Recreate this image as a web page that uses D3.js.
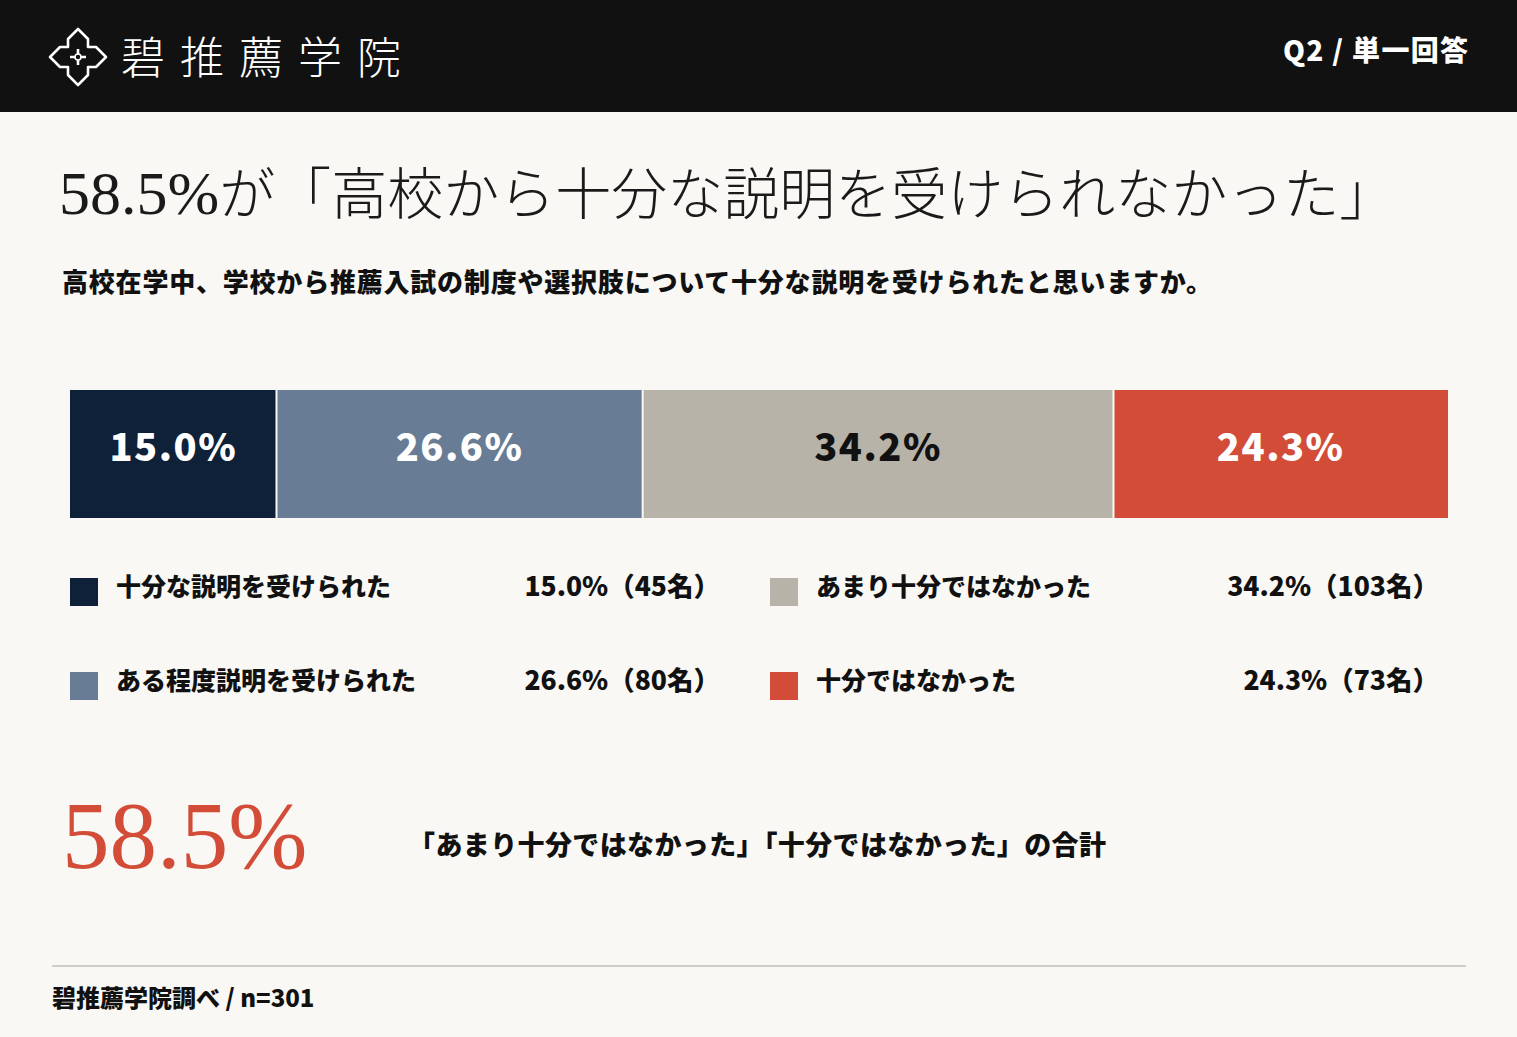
<!DOCTYPE html>
<html>
<head>
<meta charset="utf-8">
<script src="https://cdn.jsdelivr.net/npm/d3@7"></script>
<style>
  html, body { margin: 0; padding: 0; background: #f9f8f4; }
  svg { display: block; }
</style>
</head>
<body>
<svg id="chart" width="1517" height="1037"></svg>
<script>
// ---- data ----
const categories = ["十分な説明を受けられた", "ある程度説明を受けられた", "あまり十分ではなかった", "十分ではなかった"];
const values = [15.0, 26.6, 34.2, 24.3];
const counts = [45, 80, 103, 73];
const colors = ["#0f2139", "#687c95", "#b7b3a9", "#d24c38"];
const labelColors = ["#ffffff", "#ffffff", "#111111", "#ffffff"];
const headlineNum = "58.5";
const titleRest = "が「高校から十分な説明を受けられなかった」";
const subtitle = "高校在学中、学校から推薦入試の制度や選択肢について十分な説明を受けられたと思いますか。";
const sumNote = "「あまり十分ではなかった」「十分ではなかった」の合計";
const source = "碧推薦学院調べ / n=301";
const brand = "碧推薦学院";
const qLabel = "Q2 / 単一回答";

const W = 1517, H = 1037;
const sans = "Noto Sans CJK JP";
const serifLatin = "Liberation Serif";
const svg = d3.select("#chart");

svg.append("rect").attr("width", W).attr("height", H).attr("fill", "#f9f8f4");

// ---- header ----
svg.append("rect").attr("width", W).attr("height", 112).attr("fill", "#111111");
const logo = svg.append("g").attr("transform", "translate(78,57)");
const pts = [[0,-28],[10,-18],[10,-10],[18,-10],[28,0],[18,10],[10,10],[10,18],[0,28],[-10,18],[-10,10],[-18,10],[-28,0],[-18,-10],[-10,-10],[-10,-18]];
logo.append("path").attr("d", d3.line()(pts) + "Z")
  .attr("fill", "none").attr("stroke", "#fff").attr("stroke-width", 2.6).attr("stroke-linejoin", "round");
logo.append("path").attr("d", "M-8,0H8M0,-8V8").attr("stroke", "#fff").attr("stroke-width", 2.6);
logo.append("circle").attr("r", 3).attr("fill", "#111").attr("stroke", "#fff").attr("stroke-width", 1.6);

svg.append("text").attr("x", 121).attr("y", 74)
  .attr("font-family", sans).attr("font-weight", 300).attr("font-size", 44)
  .attr("letter-spacing", 15).attr("fill", "#fff").text(brand);

svg.append("text").attr("x", 1283).attr("y", 61)
  .attr("font-family", sans).attr("font-weight", 900).attr("font-size", 28)
  .attr("textLength", 185).attr("lengthAdjust", "spacing")
  .attr("fill", "#fff").text(qLabel);

// ---- title ----
const title = svg.append("text").attr("x", 59).attr("y", 214).attr("fill", "#1a1a1a");
title.append("tspan").attr("font-family", serifLatin).attr("font-size", 62).text(headlineNum);
title.append("tspan").attr("font-family", serifLatin).attr("font-size", 62).text("%");
title.append("tspan").attr("font-family", sans).attr("font-weight", 300).attr("font-size", 56).text(titleRest);

svg.append("text").attr("x", 62).attr("y", 292)
  .attr("font-family", sans).attr("font-weight", 900).attr("font-size", 26)
  .attr("textLength", 1150).attr("lengthAdjust", "spacing")
  .attr("fill", "#111").text(subtitle);

// ---- stacked bar ----
const total = d3.sum(values);
const x = d3.scaleLinear().domain([0, total]).range([70, 1448]);
const starts = d3.cumsum([0, ...values.slice(0, -1)]);
const barY = 390, barH = 128;
const segs = values.map((v, i) => ({ v, i, s: starts[i] }));
const bar = svg.append("g");
bar.selectAll("rect").data(segs).join("rect")
  .attr("x", d => x(d.s) + (d.i === 0 ? 0 : 1))
  .attr("y", barY).attr("height", barH)
  .attr("width", d => x(d.s + d.v) - x(d.s) - (d.i === 0 ? 1 : (d.i === values.length - 1 ? 1 : 2)))
  .attr("fill", d => colors[d.i]);
bar.selectAll("text").data(segs).join("text")
  .attr("x", d => (x(d.s) + x(d.s + d.v)) / 2)
  .attr("y", barY + barH / 2 + 7)
  .attr("text-anchor", "middle")
  .attr("font-family", sans).attr("font-weight", 900).attr("font-size", 38)
  .attr("letter-spacing", 1.5)
  .attr("fill", d => labelColors[d.i])
  .text(d => d.v.toFixed(1) + "%");

// ---- legend ----
const colX = d3.scaleOrdinal().domain([0, 1]).range([70, 770]);
const valEnd = d3.scaleOrdinal().domain([0, 1]).range([720, 1439]);
const rowY = d3.scaleOrdinal().domain([0, 1]).range([578, 672]);
const leg = svg.append("g").selectAll("g").data(categories.map((c, i) => ({ c, i, col: Math.floor(i / 2), row: i % 2 })))
  .join("g");
leg.append("rect")
  .attr("x", d => colX(d.col)).attr("y", d => rowY(d.row))
  .attr("width", 28).attr("height", 28).attr("fill", d => colors[d.i]);
leg.append("text")
  .attr("x", d => colX(d.col) + 46).attr("y", d => rowY(d.row) + 18)
  .attr("font-family", sans).attr("font-weight", 900).attr("font-size", 25)
  .attr("fill", "#111").text(d => d.c);
leg.append("text")
  .attr("x", d => valEnd(d.col)).attr("y", d => rowY(d.row) + 18)
  .attr("text-anchor", "end")
  .attr("font-family", sans).attr("font-weight", 900).attr("font-size", 26.5)
  .attr("fill", "#111").text(d => values[d.i].toFixed(1) + "%（" + counts[d.i] + "名）");

// ---- summary ----
const sumVal = values[2] + values[3];
const big = svg.append("text").attr("x", 62).attr("y", 868)
  .attr("font-family", serifLatin).attr("font-size", 95).attr("fill", "#d24c38");
big.append("tspan").text(sumVal.toFixed(1));
big.append("tspan").text("%");
svg.append("text").attr("x", 408).attr("y", 855)
  .attr("font-family", sans).attr("font-weight", 900).attr("font-size", 27)
  .attr("textLength", 698).attr("lengthAdjust", "spacing")
  .attr("fill", "#111").text(sumNote);

// ---- footer ----
svg.append("line").attr("x1", 52).attr("x2", 1466).attr("y1", 966).attr("y2", 966)
  .attr("stroke", "#cfcdc8").attr("stroke-width", 2);
svg.append("text").attr("x", 52).attr("y", 1007)
  .attr("font-family", sans).attr("font-weight", 900).attr("font-size", 24)
  .attr("fill", "#111").text(source);
</script>
</body>
</html>
